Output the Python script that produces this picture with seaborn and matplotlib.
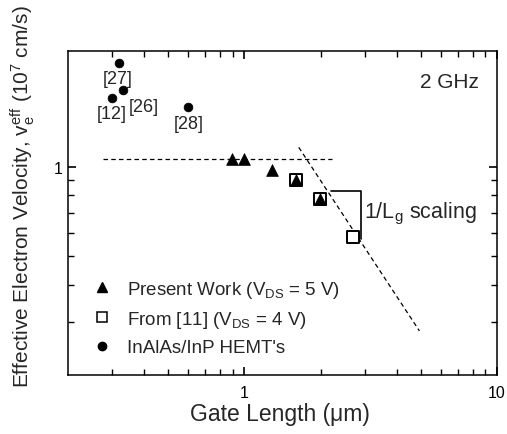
import matplotlib
matplotlib.use("Agg")
import matplotlib.pyplot as plt
from matplotlib.lines import Line2D
from matplotlib.ticker import FixedLocator, NullFormatter, FixedFormatter
import seaborn as sns

# Present work (V_DS = 5 V)
present_lg = [0.893, 1.0, 1.288, 1.60, 1.99]
present_v = [1.057, 1.057, 0.976, 0.901, 0.778]

# From [11] (V_DS = 4 V)
ref11_lg = [1.60, 1.99, 2.70]
ref11_v = [0.901, 0.778, 0.579]

# InAlAs/InP HEMT's
hemt_lg = [0.319, 0.329, 0.298, 0.600]
hemt_v = [2.22, 1.806, 1.70, 1.58]
hemt_refs = ["[27]", "[26]", "[12]", "[28]"]
hemt_label_x = [0.316, 0.401, 0.297, 0.601]
hemt_label_y = [1.977, 1.59, 1.51, 1.396]

# Saturated-velocity guide and 1/Lg guide
sat_lg = [0.275, 2.22]
sat_v = [1.06, 1.06]
inv_lg = [1.64, 4.93]
inv_v = [1.16, 0.281]

# Bracket marking the 1/Lg scaling
br_x = [2.20, 2.90, 2.90]
br_y = [0.826, 0.826, 0.571]

sns.set_theme(style="ticks")
plt.rcParams["font.family"] = ["Liberation Sans", "DejaVu Sans"]
plt.rcParams["mathtext.fontset"] = "custom"
plt.rcParams["mathtext.rm"] = "Liberation Sans"
plt.rcParams["mathtext.it"] = "Liberation Sans"

fig = plt.figure(figsize=(5.07, 4.35), dpi=100)
ax = fig.add_axes([68 / 507, (435 - 376) / 435, 429 / 507, 324.5 / 435])
ax.set_xscale("log")
ax.set_yscale("log")
ax.set_xlim(0.2, 10)
ax.set_ylim(0.2, 2.45)

dash = (0, (3.6, 2.6))
sns.lineplot(x=sat_lg, y=sat_v, ax=ax, color="black", lw=0.9, linestyle=dash)
sns.lineplot(x=inv_lg, y=inv_v, ax=ax, color="black", lw=0.9, linestyle=dash)
sns.lineplot(x=br_x, y=br_y, ax=ax, color="black", lw=1.2,
             estimator=None, sort=False)

sns.scatterplot(x=ref11_lg, y=ref11_v, ax=ax, marker="s", s=70,
                facecolor="white", edgecolor="black", linewidth=1.4, zorder=3)
sns.scatterplot(x=present_lg, y=present_v, ax=ax, marker="^", s=72,
                color="black", edgecolor="black", linewidth=0.5, zorder=4)
sns.scatterplot(x=hemt_lg, y=hemt_v, ax=ax, marker="o", s=40,
                color="black", edgecolor="black", linewidth=0.5, zorder=4)

for tx, ty, t in zip(hemt_label_x, hemt_label_y, hemt_refs):
    ax.text(tx, ty, t, ha="center", va="center", fontsize=13)

ax.text(2.98, 0.70, r"1/L$_{\mathregular{g}}$ scaling", ha="left", va="center",
        fontsize=15.5)
ax.text(0.89, 0.906, "2 GHz", transform=ax.transAxes, ha="center",
        va="center", fontsize=15)

# Axes, ticks
for sp in ax.spines.values():
    sp.set_linewidth(1.1)
    sp.set_color("black")
ax.xaxis.set_major_locator(FixedLocator([1, 10]))
ax.xaxis.set_major_formatter(FixedFormatter(["1", "10"]))
ax.xaxis.set_minor_locator(FixedLocator([0.3, 0.4, 0.5, 0.6, 0.7, 0.8, 0.9,
                                         2, 3, 4, 5, 6, 7, 8, 9]))
ax.xaxis.set_minor_formatter(NullFormatter())
ax.yaxis.set_major_locator(FixedLocator([1]))
ax.yaxis.set_major_formatter(FixedFormatter(["1"]))
ax.yaxis.set_minor_locator(FixedLocator([0.3, 0.4, 0.5, 0.6, 0.7, 0.8, 0.9]))
ax.yaxis.set_minor_formatter(NullFormatter())
ax.tick_params(which="both", direction="in", top=True, right=True,
               color="black", labelsize=11.5, labelcolor="black")
ax.tick_params(which="major", length=6, width=1.2)
ax.tick_params(which="minor", length=4, width=1.0)
ax.tick_params(axis="x", which="major", pad=7)
ax.tick_params(axis="y", which="major", pad=4)

ax.set_xlabel("Gate Length (\u03bcm)", fontsize=16.5)
ax.set_ylabel(r"Effective Electron Velocity, $\mathregular{v_e^{eff}}$ (10$^{\mathregular{7}}$ cm/s)",
              fontsize=15)
ax.xaxis.set_label_coords(0.494, -0.083)
ax.yaxis.set_label_coords(-0.072, 0.552)

handles = [
    Line2D([], [], linestyle="none", marker="^", color="black", markersize=7),
    Line2D([], [], linestyle="none", marker="s", markerfacecolor="white",
           markeredgecolor="black", markeredgewidth=1.1, markersize=7),
    Line2D([], [], linestyle="none", marker="o", color="black", markersize=6),
]
labels = [r"Present Work (V$_{\mathregular{DS}}$ = 5 V)",
          r"From [11] (V$_{\mathregular{DS}}$ = 4 V)",
          "InAlAs/InP HEMT's"]
ax.legend(handles, labels, loc="upper left", bbox_to_anchor=(0.0618, 0.297),
          frameon=False, fontsize=13.5, handlelength=0.8, handletextpad=0.93,
          labelspacing=0.5, borderpad=0, borderaxespad=0)

fig.savefig("out.png", dpi=100)
